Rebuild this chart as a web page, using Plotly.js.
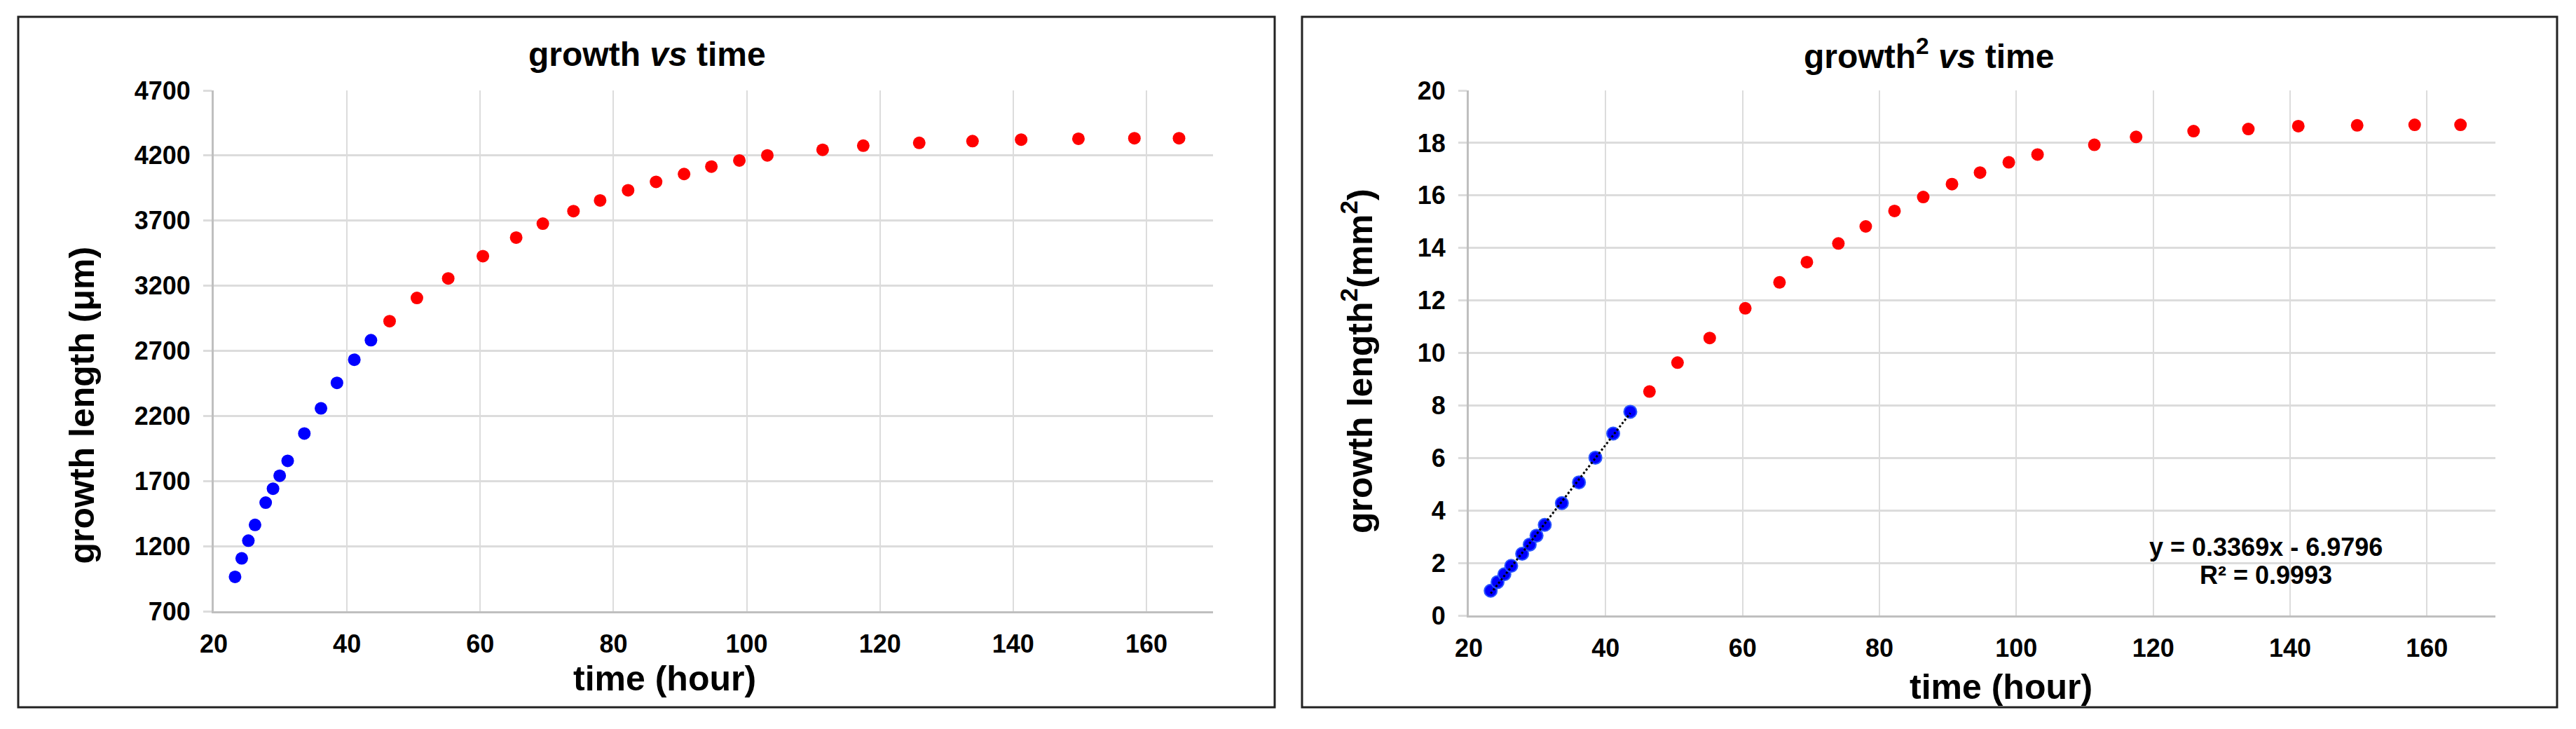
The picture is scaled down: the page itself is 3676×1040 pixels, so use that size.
<!DOCTYPE html>
<html>
<head>
<meta charset="utf-8">
<script src="https://cdn.plot.ly/plotly-3.0.1.min.js"></script>
<style>
  body { margin: 0; background: #fff; }
</style>
</head>
<body>
<div id="chart" style="width:3676px;height:1040px"></div>
<script>
// time (hour) of each measurement, blue = points used for the linear fit
var timeFit  = [23.2, 24.2, 25.2, 26.2, 27.8, 28.9, 29.9, 31.1, 33.6, 36.1, 38.5, 41.1, 43.6];
var timeRest = [46.4, 50.5, 55.2, 60.4, 65.4, 69.4, 74.0, 78.0, 82.2, 86.4, 90.6,
                94.7, 98.9, 103.1, 111.4, 117.5, 125.9, 133.9, 141.2, 149.8, 158.2, 164.9];

// growth length (um)
var lenFit  = [964, 1106, 1242, 1363, 1534, 1641, 1741, 1855, 2065, 2258, 2454, 2632, 2782];
var lenRest = [2928, 3106, 3256, 3427, 3570, 3677, 3773, 3855, 3933, 3998, 4058,
               4115, 4162, 4201, 4244, 4276, 4297, 4311, 4322, 4329, 4333, 4333];

// growth length squared (mm^2)
var sqFit  = [0.94, 1.27, 1.57, 1.89, 2.35, 2.70, 3.04, 3.45, 4.28, 5.07, 6.01, 6.93, 7.76];
var sqRest = [8.53, 9.63, 10.57, 11.70, 12.69, 13.46, 14.17, 14.82, 15.41, 15.94, 16.43,
              16.87, 17.26, 17.56, 17.93, 18.23, 18.45, 18.53, 18.64, 18.67, 18.69, 18.69];

// trendline shown on the right chart
var fitSlope = 0.3369;
var fitIntercept = -6.9796;
var fitR2 = 0.9993;

var RED = '#ff0000';
var BLUE = '#0000ff';
var GRID = '#dcdcdc';
var AXIS = '#bfbfbf';
var TXT = 'Liberation Sans, Arial, sans-serif';

var fitX = [timeFit[0], timeFit[timeFit.length - 1]];
var fitY = fitX.map(function (t) { return fitSlope * t + fitIntercept; });

var data = [
  { x: timeFit, y: lenFit, xaxis: 'x', yaxis: 'y', type: 'scatter', mode: 'markers',
    marker: { color: BLUE, size: 18 } },
  { x: timeRest, y: lenRest, xaxis: 'x', yaxis: 'y', type: 'scatter', mode: 'markers',
    marker: { color: RED, size: 18 } },
  { x: timeFit, y: sqFit, xaxis: 'x2', yaxis: 'y2', type: 'scatter', mode: 'markers',
    marker: { color: BLUE, size: 18, line: { color: '#2a55ff', width: 2 } } },
  { x: timeRest, y: sqRest, xaxis: 'x2', yaxis: 'y2', type: 'scatter', mode: 'markers',
    marker: { color: RED, size: 18 } },
  { x: fitX, y: fitY, xaxis: 'x2', yaxis: 'y2', type: 'scatter', mode: 'lines',
    line: { color: '#000', width: 3, dash: 'dot' } }
];

function xAx(dom, anchor) {
  return {
    domain: dom, anchor: anchor, range: [20, 170], tick0: 20, dtick: 20,
    showgrid: true, gridcolor: GRID, gridwidth: 2,
    showline: true, linecolor: AXIS, linewidth: 3,
    ticks: '', ticklabelstandoff: 13, zeroline: false,
    tickfont: { family: TXT, size: 36, color: '#000', weight: 'bold' }
  };
}
function yAx(dom, anchor, rng, d) {
  return {
    domain: dom, anchor: anchor, range: rng, tick0: rng[0], dtick: d,
    showgrid: true, gridcolor: GRID, gridwidth: 3,
    showline: true, linecolor: AXIS, linewidth: 3,
    ticks: 'outside', ticklen: 12, tickcolor: GRID, tickwidth: 3,
    ticklabelstandoff: 11, zeroline: false,
    tickfont: { family: TXT, size: 36, color: '#000', weight: 'bold' }
  };
}

function note(text, x, y, size, angle) {
  return {
    text: text, x: x, y: y, xref: 'paper', yref: 'paper',
    xanchor: 'center', yanchor: 'middle', showarrow: false,
    textangle: angle || 0,
    font: { family: TXT, size: size, color: '#000', weight: 'bold' }
  };
}

var layout = {
  width: 3676, height: 1040,
  margin: { l: 0, r: 0, t: 0, b: 0 },
  paper_bgcolor: '#fff', plot_bgcolor: '#fff',
  showlegend: false,
  xaxis: xAx([0.08297, 0.47089], 'y'),
  yaxis: yAx([0.16154, 0.87596], 'x', [700, 4700], 500),
  xaxis2: xAx([0.57018, 0.96872], 'y2'),
  yaxis2: yAx([0.15577, 0.87596], 'x2', [0, 20], 2),
  shapes: [
    { type: 'rect', xref: 'paper', yref: 'paper', x0: 0.00707, x1: 0.49483, y0: 0.02981, y1: 0.97692,
      line: { color: '#222', width: 3 } },
    { type: 'rect', xref: 'paper', yref: 'paper', x0: 0.50544, x1: 0.99265, y0: 0.02981, y1: 0.97692,
      line: { color: '#222', width: 3 } }
  ],
  annotations: [
    note('growth <i>vs</i> time', 0.25136, 0.92596, 48),
    note('growth<sup>2</sup> <i>vs</i> time', 0.74891, 0.92596, 48),
    note('time (hour)', 0.25789, 0.06923, 50),
    note('time (hour)', 0.77693, 0.05817, 50),
    note('growth length (\u03bcm)', 0.03156, 0.44375, 50, -90),
    note('growth length<sup>2</sup>(mm<sup>2</sup>)', 0.52693, 0.50481, 50, -90),
    note('y = ' + fitSlope.toFixed(4) + 'x - ' + Math.abs(fitIntercept).toFixed(4), 0.87949, 0.24904, 36),
    note('R\u00b2 = ' + fitR2.toFixed(4), 0.87949, 0.21058, 36)
  ]
};

Plotly.newPlot('chart', data, layout, { displayModeBar: false, staticPlot: true });
</script>
</body>
</html>
